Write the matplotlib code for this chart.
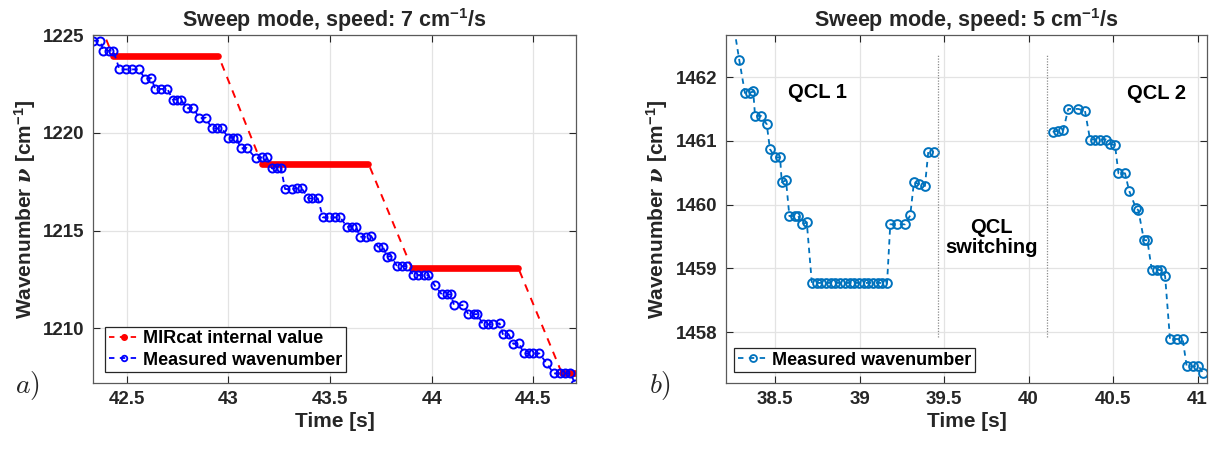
import matplotlib
matplotlib.use('Agg')
import matplotlib.pyplot as plt
from matplotlib.lines import Line2D

# ---------------- data ----------------
# Panel a) measured wavenumber (blue)
a_meas_t = [42.336, 42.369, 42.385, 42.414, 42.434, 42.464, 42.495, 42.528, 42.561,
            42.590, 42.620, 42.640, 42.670, 42.700, 42.726, 42.746, 42.767, 42.795,
            42.828, 42.856, 42.889, 42.918, 42.943, 42.968, 43.000, 43.025, 43.041,
            43.060, 43.090, 43.135, 43.164, 43.189, 43.214, 43.238, 43.259, 43.279,
            43.312, 43.337, 43.361, 43.394, 43.410, 43.440, 43.465, 43.497, 43.525,
            43.550, 43.583, 43.607, 43.628, 43.648, 43.676, 43.702, 43.735, 43.760,
            43.782, 43.800, 43.829, 43.853, 43.878, 43.910, 43.935, 43.960, 43.984,
            44.014, 44.050, 44.074, 44.094, 44.110, 44.156, 44.180, 44.206, 44.225,
            44.252, 44.277, 44.301, 44.334, 44.350, 44.378, 44.402, 44.430, 44.452,
            44.477, 44.500, 44.530, 44.566, 44.600, 44.629, 44.657, 44.682, 44.706]
a_meas_v = [1224.71, 1224.71, 1224.20, 1224.20, 1224.20, 1223.24, 1223.24, 1223.24, 1223.24,
            1222.75, 1222.80, 1222.24, 1222.24, 1222.24, 1221.70, 1221.70, 1221.70, 1221.25,
            1221.28, 1220.74, 1220.77, 1220.22, 1220.22, 1220.22, 1219.74, 1219.74, 1219.74,
            1219.20, 1219.22, 1218.70, 1218.74, 1218.74, 1218.18, 1218.18, 1218.18, 1217.12,
            1217.12, 1217.15, 1217.15, 1216.64, 1216.64, 1216.64, 1215.67, 1215.67, 1215.67,
            1215.67, 1215.19, 1215.19, 1215.19, 1214.68, 1214.68, 1214.72, 1214.17, 1214.17,
            1213.65, 1213.70, 1213.18, 1213.18, 1213.18, 1212.72, 1212.72, 1212.72, 1212.72,
            1212.20, 1211.73, 1211.73, 1211.73, 1211.18, 1211.18, 1210.72, 1210.72, 1210.72,
            1210.20, 1210.20, 1210.20, 1210.25, 1209.70, 1209.70, 1209.20, 1209.25, 1208.71,
            1208.71, 1208.71, 1208.71, 1208.20, 1207.69, 1207.69, 1207.69, 1207.69, 1207.17]

# Panel a) MIRcat internal value (red): plateau corners
a_mir_t = [42.218, 42.431, 42.951, 43.164, 43.689, 43.903, 44.427, 44.641, 44.760]
a_mir_v = [1229.48, 1223.94, 1223.94, 1218.42, 1218.42, 1213.06, 1213.06, 1207.69, 1207.69]
# plateau start/end indices into the corner arrays
a_plateaus = [(1, 2), (3, 4), (5, 6), (7, 8)]

# Panel b) measured wavenumber
b_t = [38.250, 38.289, 38.322, 38.352, 38.371, 38.382, 38.417, 38.451, 38.470, 38.500,
       38.530, 38.540, 38.565, 38.585, 38.619, 38.638, 38.658, 38.688,
       38.718, 38.746, 38.774, 38.802, 38.830, 38.857, 38.885, 38.913, 38.941,
       38.968, 38.996, 39.024, 39.052, 39.079, 39.107, 39.135, 39.163,
       39.182, 39.220, 39.270, 39.300, 39.322, 39.354, 39.387, 39.407, 39.440,
       40.143, 40.176, 40.206, 40.235, 40.294, 40.334, 40.364, 40.393, 40.423,
       40.459, 40.482, 40.512, 40.532, 40.571, 40.595, 40.636, 40.650, 40.683,
       40.703, 40.729, 40.758, 40.782, 40.808, 40.837, 40.877, 40.912, 40.936,
       40.975, 41.005, 41.034]
b_v = [1462.90, 1462.26, 1461.75, 1461.75, 1461.78, 1461.39, 1461.39, 1461.26, 1460.87, 1460.74,
       1460.74, 1460.35, 1460.38, 1459.82, 1459.82, 1459.82, 1459.69, 1459.72,
       1458.77, 1458.77, 1458.77, 1458.77, 1458.77, 1458.77, 1458.77, 1458.77, 1458.77,
       1458.77, 1458.77, 1458.77, 1458.77, 1458.77, 1458.77, 1458.77, 1458.77,
       1459.69, 1459.69, 1459.69, 1459.83, 1460.35, 1460.32, 1460.29, 1460.83, 1460.83,
       1461.14, 1461.16, 1461.17, 1461.50, 1461.50, 1461.47, 1461.02, 1461.02, 1461.02,
       1461.02, 1460.95, 1460.93, 1460.49, 1460.49, 1460.22, 1459.94, 1459.91, 1459.44,
       1459.44, 1458.98, 1458.98, 1458.97, 1458.88, 1457.89, 1457.89, 1457.89, 1457.46,
       1457.46, 1457.47, 1457.35]
# break between the two lasers (segment split index)
b_split = 44
b_switch_t = [39.467, 40.110]
b_switch_v = [1457.92, 1462.34]

a_xticks = [42.5, 43, 43.5, 44, 44.5]
a_yticks = [1210, 1215, 1220, 1225]
b_xticks = [38.5, 39, 39.5, 40, 40.5, 41]
b_yticks = [1458, 1459, 1460, 1461, 1462]

# ---------------- style ----------------
plt.rcParams['font.family'] = ['Liberation Sans', 'DejaVu Sans']
plt.rcParams['font.weight'] = 'bold'
plt.rcParams['mathtext.fontset'] = 'custom'
plt.rcParams['mathtext.rm'] = 'Liberation Sans:bold'
plt.rcParams['mathtext.bf'] = 'Liberation Sans:bold'
plt.rcParams['mathtext.it'] = 'DejaVu Serif:italic'
TXT = '#262626'

fig = plt.figure(figsize=(12.16, 4.49), dpi=100)
W, H = 1216, 449


def mk_axes(x0, x1, y0, y1):
    return fig.add_axes([x0 / W, 1 - y1 / H, (x1 - x0) / W, (y1 - y0) / H])


def style(ax, xt, yt):
    ax.set_xticks(xt)
    ax.set_yticks(yt)
    ax.set_xticklabels([('%g' % v) for v in xt])
    ax.set_yticklabels([('%g' % v) for v in yt])
    ax.tick_params(direction='in', length=5, width=0.8, top=True, right=True,
                   labelsize=13.5, colors=TXT, pad=6)
    for lab in ax.get_xticklabels() + ax.get_yticklabels():
        lab.set_fontweight('bold')
        lab.set_color(TXT)
    for s in ax.spines.values():
        s.set_color('#5a5a5a')
        s.set_linewidth(0.9)
    ax.grid(True, color='#e3e3e3', linewidth=0.9)
    ax.set_axisbelow(True)


# ---------------- panel a ----------------
ax1 = mk_axes(93, 576, 35, 383)
ax1.plot(a_mir_t, a_mir_v, color='red', linestyle=(0, (4, 3.5)), linewidth=1.4)
for i0, i1 in a_plateaus:
    ax1.plot([a_mir_t[i0], a_mir_t[i1]], [a_mir_v[i0], a_mir_v[i1]], color='red',
             linewidth=4.8, solid_capstyle='round')
ax1.plot(a_meas_t, a_meas_v, color='blue', linestyle=(0, (3, 2.5)), linewidth=1.3,
         marker='o', markersize=5.8, markerfacecolor='none', markeredgewidth=1.4)
ax1.set_xlim(42.334, 44.71)
ax1.set_ylim(1207.2, 1225)
style(ax1, a_xticks, a_yticks)
ax1.set_title('Sweep mode, speed: 7 cm$^{\\mathbf{-1}}$/s', fontsize=15.5, fontweight='bold',
              color=TXT, pad=6)
ax1.set_xlabel('Time [s]', fontsize=15, fontweight='bold', color=TXT, labelpad=3)
ax1.set_ylabel('Wavenumber $\\nu$ [cm$^{\\mathbf{-1}}$]', fontsize=15, fontweight='bold',
               color=TXT, labelpad=4)
h_red = Line2D([], [], color='red', linestyle=(0, (3, 3)), linewidth=1.3, marker='o',
               markersize=4)
h_blue = Line2D([], [], color='blue', linestyle=(0, (3, 3)), linewidth=1.3, marker='o',
                markersize=4, markerfacecolor='none', markeredgewidth=1.3)
leg1 = ax1.legend([h_red, h_blue], ['MIRcat internal value', 'Measured wavenumber'],
                  loc='lower left', bbox_to_anchor=(0.018, 0.02), fontsize=13,
                  frameon=True, fancybox=False, edgecolor='#262626', framealpha=1,
                  handlelength=1.7, handletextpad=0.2, borderpad=0.2, labelspacing=0.25,
                  borderaxespad=0.2)
leg1.get_frame().set_linewidth(0.9)
for t in leg1.get_texts():
    t.set_color('black')

# ---------------- panel b ----------------
ax2 = mk_axes(726, 1207, 35, 383)
col = '#0072BD'
ax2.plot(b_t[:b_split], b_v[:b_split], color=col, linestyle=(0, (3, 2.5)), linewidth=1.3,
         marker='o', markersize=6.3, markerfacecolor='none', markeredgewidth=1.4)
ax2.plot(b_t[b_split:], b_v[b_split:], color=col, linestyle=(0, (3, 2.5)), linewidth=1.3,
         marker='o', markersize=6.3, markerfacecolor='none', markeredgewidth=1.4)
for xs in b_switch_t:
    ax2.plot([xs, xs], b_switch_v, color='#8c8c8c', linestyle=(0, (1, 1.2)), linewidth=0.9)
ax2.set_xlim(38.21, 41.056)
ax2.set_ylim(1457.2, 1462.66)
style(ax2, b_xticks, b_yticks)
ax2.set_title('Sweep mode, speed: 5 cm$^{\\mathbf{-1}}$/s', fontsize=15.5, fontweight='bold',
              color=TXT, pad=6)
ax2.set_xlabel('Time [s]', fontsize=15, fontweight='bold', color=TXT, labelpad=3)
ax2.set_ylabel('Wavenumber $\\nu$ [cm$^{\\mathbf{-1}}$]', fontsize=15, fontweight='bold',
               color=TXT, labelpad=4)
ax2.text(38.749, 1461.75, 'QCL 1', fontsize=14.5, fontweight='bold', ha='center',
         va='center', color='black')
ax2.text(40.76, 1461.74, 'QCL 2', fontsize=14.5, fontweight='bold', ha='center',
         va='center', color='black')
ax2.text(39.78, 1459.48, 'QCL\nswitching', fontsize=14.5, fontweight='bold', ha='center',
         va='center', color='black', linespacing=1.05)
h_b = Line2D([], [], color=col, linestyle=(0, (3, 3)), linewidth=1.3, marker='o',
             markersize=5, markerfacecolor='none', markeredgewidth=1.3)
leg2 = ax2.legend([h_b], ['Measured wavenumber'], loc='lower left',
                  bbox_to_anchor=(0.01, 0.02), fontsize=13, frameon=True, fancybox=False,
                  edgecolor='#262626', framealpha=1, handlelength=1.7, handletextpad=0.2,
                  borderpad=0.2, borderaxespad=0.2)
leg2.get_frame().set_linewidth(0.9)

# panel letters
fig.text(27 / W, 1 - 385 / H, '$a)$', fontsize=20, math_fontfamily='cm', ha='center',
         va='center', color=TXT)
fig.text(660 / W, 1 - 385 / H, '$b)$', fontsize=20, math_fontfamily='cm', ha='center',
         va='center', color=TXT)

fig.savefig('out.png', dpi=100)
